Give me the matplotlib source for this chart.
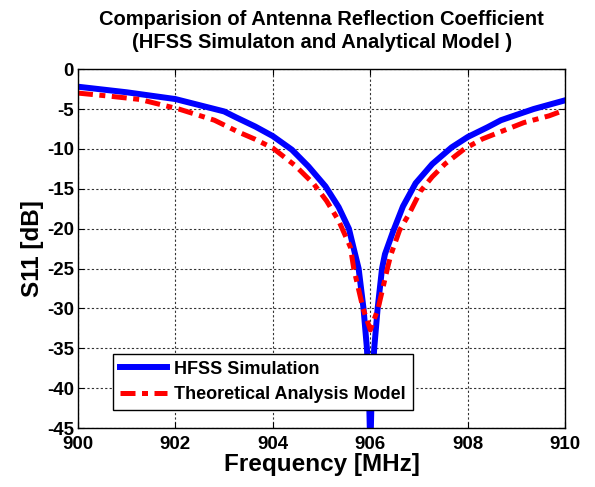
import matplotlib

matplotlib.use("Agg")

import matplotlib.pyplot as plt

# HFSS simulation
hfss_freq = [900.0, 901.0, 902.0, 903.0, 903.23, 903.64, 904.0, 904.39, 904.73,
             905.08, 905.35, 905.56, 905.76, 905.86, 905.93, 905.97, 906.0,
             906.03, 906.08, 906.15, 906.24, 906.3, 906.47, 906.67, 906.93,
             907.27, 907.67, 908.0, 908.4, 908.68, 909.35, 910.0]
hfss_s11 = [-2.2, -2.9, -3.75, -5.3, -6.0, -7.2, -8.4, -10.1, -12.2,
            -14.7, -17.3, -20.0, -25.0, -30.0, -35.0, -40.0, -48.0,
            -40.0, -35.0, -30.0, -25.0, -23.2, -20.3, -17.2, -14.3,
            -11.9, -9.8, -8.5, -7.3, -6.4, -5.0, -3.9]

# theoretical analysis model
model_freq = [900.0, 900.67, 901.27, 902.07, 902.8, 903.3, 903.64, 904.0, 904.46,
              904.84, 905.1, 905.35, 905.59, 905.66, 905.85, 906.0, 906.16,
              906.35, 906.42, 906.6, 906.8, 907.03, 907.27, 907.53, 907.93,
              908.3, 909.15, 909.67, 910.0]
model_s11 = [-3.0, -3.4, -3.8, -5.0, -6.4, -7.9, -8.8, -9.9, -12.1,
             -14.4, -16.5, -19.0, -22.3, -25.0, -30.0, -32.7, -30.0,
             -25.0, -23.3, -20.2, -18.1, -15.3, -13.5, -11.9, -10.0,
             -8.75, -6.7, -5.85, -5.1]

x_ticks = [900, 902, 904, 906, 908, 910]
y_ticks = [0, -5, -10, -15, -20, -25, -30, -35, -40, -45]

plt.rcParams["font.family"] = ["Liberation Sans", "DejaVu Sans"]
plt.rcParams["font.weight"] = "bold"
plt.rcParams["axes.unicode_minus"] = False

fig = plt.figure(figsize=(5.95, 4.87), dpi=100)
ax = fig.add_axes([0.131, 0.121, 0.819, 0.737])

ax.plot(hfss_freq, hfss_s11, color="#0000ff", lw=4.3, solid_joinstyle="round",
        label="HFSS Simulation")
ax.plot(model_freq, model_s11, color="#ff0000", lw=3.6,
        dashes=(3.0, 1.3, 1.2, 1.3), label="Theoretical Analysis Model")

ax.set_xlim(900, 910)
ax.set_ylim(-45, 0)
ax.set_xticks(x_ticks)
ax.set_yticks(y_ticks)
ax.tick_params(labelsize=13.5, direction="in", top=True, right=True, length=4)
ax.tick_params(axis="x", pad=6)
ax.tick_params(axis="y", pad=3)
for lbl in ax.get_xticklabels() + ax.get_yticklabels():
    lbl.set_fontweight("bold")
ax.grid(True, color="#333333", linestyle=(0, (2, 2)), lw=0.8)
for sp in ax.spines.values():
    sp.set_linewidth(1.0)

ax.set_xlabel("Frequency [MHz]", fontsize=17.5, fontweight="bold", labelpad=0)
ax.set_ylabel("S11 [dB]", fontsize=17.5, fontweight="bold", labelpad=2)
ax.set_title("Comparision of Antenna Reflection Coefficient\n"
             "(HFSS Simulaton and Analytical Model )",
             fontsize=14.5, fontweight="bold", pad=15, linespacing=1.3)

leg = ax.legend(loc="lower left", bbox_to_anchor=(0.072, 0.05),
                prop={"weight": "bold", "size": 13}, handlelength=2.6,
                fancybox=False, framealpha=1, edgecolor="black",
                borderpad=0.4, labelspacing=0.45, handletextpad=0.4,
                borderaxespad=0.0)
leg.get_frame().set_linewidth(1.0)

fig.savefig("out.png", dpi=100)
